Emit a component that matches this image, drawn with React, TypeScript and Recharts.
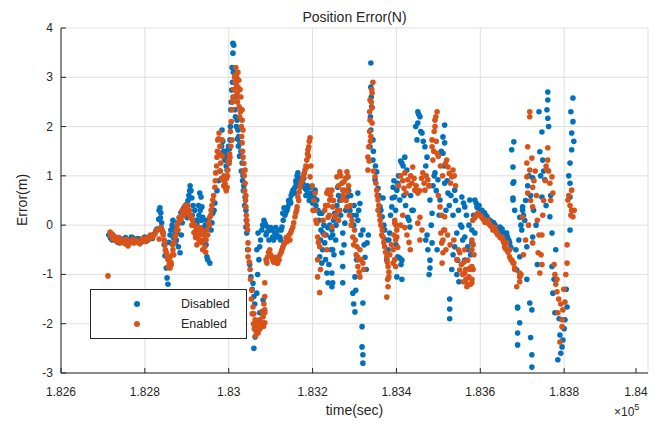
import { ScatterChart, Scatter, XAxis, YAxis, CartesianGrid } from 'recharts';

// time in seconds, error in metres
const xTicks = [182600, 182800, 183000, 183200, 183400, 183600, 183800, 184000];
const yTicks = [-3, -2, -1, 0, 1, 2, 3, 4];

const disabled: [number, number][] = [
  [182714,-0.2],[182718,-0.26],[182722,-0.3],[182726,-0.22],[182729,-0.26],[182733,-0.31],[182736,-0.35],[182740,-0.27],
  [182743,-0.28],[182747,-0.33],[182750,-0.3],[182754,-0.25],[182757,-0.36],[182761,-0.31],[182764,-0.3],[182768,-0.24],
  [182772,-0.26],[182776,-0.33],[182779,-0.34],[182783,-0.27],[182786,-0.28],[182790,-0.35],[182793,-0.33],[182797,-0.26],
  [182800,-0.24],[182804,-0.31],[182807,-0.3],[182811,-0.25],[182815,-0.22],[182818,-0.27],[182822,-0.18],[182826,-0.12],
  [182829,-0.08],[182833,0.12],[182836,0.35],[182838,0.25],[182840,0.05],[182843,-0.15],[182846,-0.4],[182848,-0.62],
  [182851,-0.87],[182853,-1.07],[182855,-1.2],[182858,-0.35],[182860,-0.2],[182862,-0.1],[182865,0],[182867,0.1],
  [182870,-0.05],[182872,-0.16],[182875,-0.3],[182877,-0.16],[182880,-0.44],[182884,-0.56],[182887,-0.2],[182889,0.05],
  [182891,0.2],[182896,0.3],[182900,0.43],[182903,0.5],[182905,0.6],[182908,0.8],[182910,0.7],[182912,0.55],
  [182915,0.4],[182919,0.3],[182922,0.1],[182924,0.04],[182926,-0.1],[182929,0.2],[182931,0.65],[182934,0.57],
  [182936,0.37],[182938,0.16],[182941,-0.05],[182943,-0.2],[182946,-0.4],[182948,-0.64],[182950,-0.7],[182955,-0.77],
  [182958,-0.1],[182960,0.05],[182962,0.24],[182965,0.3],[182967,0.45],[182972,0.7],[182976,0.9],[182979,1.1],
  [182981,1.46],[182984,1.93],[182986,1.7],[182989,1.4],[182991,1.32],[182994,1.2],[182996,1.12],[182998,1.53],
  [183001,1.3],[183003,1.73],[183005,2.34],[183007,2.74],[183008,3.2],[183010,3.49],[183010,3.69],[183012,3.65],
  [183015,2.34],[183017,2.6],[183020,2.13],[183022,1.93],[183024,1.8],[183027,1.67],[183029,1.5],[183032,1.26],
  [183034,1],[183036,0.8],[183039,0.57],[183041,0.3],[183042,0.1],[183041,-0.04],[183043,-0.16],[183045,-0.5],
  [183053,-1.05],[183058,-1.18],[183060,-1.45],[183063,-2.27],[183060,-2.5],[183067,-1.38],[183074,-1.78],[183082,-1.52],
  [183067,-0.5],[183070,-0.16],[183074,-0.44],[183086,0.04],[183089,-0.2],[183093,-0.04],[183098,-0.1],[183103,-0.1],
  [183105,-0.24],[183110,-0.16],[183115,-0.2],[183117,-0.24],[183122,-0.24],[183125,-0.1],[183127,-0.04],[183129,0.24],
  [183134,0.2],[183139,0.3],[183141,0.37],[183144,0.45],[183146,0.51],[183149,0.6],[183151,0.65],[183155,0.72],
  [183158,0.77],[183161,0.85],[183163,1],[183165,1.06],[183168,0.95],[183170,0.92],[183175,0.88],[183177,0.85],
  [183182,0.75],[183186,0.71],[183190,0.6],[183194,0.57],[183194,0.77],[183198,0.57],[183203,0.65],[183206,0.71],
  [183210,0.51],[183213,0.3],[183217,0.24],[183220,-0.1],[183222,0.24],[183225,-0.16],[183217,-0.64],[183222,-0.77],
  [183229,-0.36],[183234,-0.97],[183237,-1.17],[183241,0],[183244,-0.5],[183246,-1.25],[183248,-0.2],[183250,0.1],
  [183253,0.24],[183255,-0.3],[183246,-0.1],[183248,-0.5],[183246,-0.97],[183248,-1.17],[183260,0.77],[183265,0.5],
  [183270,0.57],[183272,0.57],[183277,0.04],[183272,-0.16],[183270,-0.56],[183272,-0.84],[183272,-1.17],[183284,0.98],
  [183289,0.3],[183294,0.2],[183301,-1.05],[183303,-1.32],[183296,-1.38],[183301,-1.76],[183308,0.65],[183313,0.44],
  [183308,0.1],[183320,-0.1],[183320,-1.58],[183318,-2.06],[183318,-2.47],[183320,-2.63],[183320,-2.8],[183330,-0.36],
  [183325,-0.65],[183299,0.4],[183282,0.57],[183339,3.29],[183339,2.8],[183339,1.93],[183344,1.73],[183337,1.59],
  [183344,1.32],[183341,2.4],[183353,1.08],[183349,0.92],[183361,0.37],[183366,0.17],[183372,-0.1],[183384,-0.16],
  [183380,-0.5],[183377,-0.7],[183392,0.77],[183396,0.57],[183389,0.37],[183401,-1.05],[183403,-0.64],[183368,0.55],
  [183356,0.75],[183401,0.71],[183403,0.85],[183408,0.51],[183413,1.26],[183420,1.38],[183425,1.12],[183427,0.16],
  [183432,-0.04],[183437,0.3],[183413,-0.71],[183413,-1.1],[183408,-0.67],[183411,-0.8],[183451,2.3],[183456,2.2],
  [183451,2.07],[183449,1.73],[183461,1.87],[183468,1.59],[183473,1.38],[183515,2.03],[183511,1.79],[183515,1.67],
  [183511,1.46],[183492,1.06],[183499,0.92],[183515,0.85],[183523,0.65],[183539,0.71],[183556,0.57],[183563,0.37],
  [183575,0.51],[183485,0.24],[183480,0.51],[183504,0.51],[183480,-0.71],[183480,-0.87],[183475,-0.5],[183485,-0.36],
  [183470,-0.3],[183532,-0.9],[183544,-0.16],[183539,-0.44],[183556,-0.04],[183563,-0.24],[183570,-0.44],[183527,-1.5],
  [183527,-1.7],[183527,-1.9],[183544,-1],[183546,-0.71],[183563,-0.71],[183570,-0.5],[183580,-0.36],[183587,-0.16],
  [183587,0.51],[183592,0.37],[183604,0.3],[183616,0.17],[183628,0.06],[183647,-0.04],[183658,-0.16],[183670,-0.36],
  [183639,-0.1],[183580,-0.1],[183597,0.4],[183610,0.25],[183622,0.1],[183635,0],[183652,-0.08],[183665,-0.24],
  [183675,1.53],[183678,1.18],[183678,0.85],[183678,0.51],[183680,1.69],[183680,0.88],[183678,0.55],[183701,0.3],
  [183694,0.16],[183699,-0.1],[183694,-0.64],[183689,-1.66],[183663,-0.16],[183687,-0.91],[183689,-1.68],[183694,-1.98],
  [183689,-2.19],[183689,-2.43],[183711,-1.1],[183718,-1.58],[183723,-1.72],[183720,-2.28],[183723,-2.63],[183723,-2.88],
  [183725,0.96],[183701,0.37],[183682,0.3],[183706,0.1],[183711,-0.44],[183725,-0.24],[183740,2.3],[183747,1.89],
  [183742,1.49],[183749,1.32],[183754,0.92],[183747,0.57],[183766,0.17],[183771,-0.16],[183761,2.7],[183761,2.54],
  [183761,2.17],[183759,2.34],[183771,-0.84],[183773,-1.38],[183778,-1.78],[183790,-2.23],[183785,-2.73],[183795,-2.47],
  [183807,-1.66],[183802,-1.92],[183797,-2.33],[183821,2.58],[183821,2.1],[183818,1.87],[183818,1.53],[183814,1.26],
  [183814,0.85],[183814,0.57],[183814,-0.1],
  [182834,0.3],[182837,0.15],[182839,-0.05],[182868,-0.25],[182873,-0.35],[182878,0.05],[182882,0.15],[182886,0.25],
  [182893,0.35],[182898,0.25],[182901,0.15],[182907,0.7],[182913,0.2],[182917,0],[182921,-0.2],[182925,0.1],
  [182928,0.4],[182932,0.3],[182935,0.1],[182939,-0.1],[182944,0],[182947,0.1],[182983,1.6],[182988,1.5],
  [182993,1.45],[182997,1.35],[183000,1.6],[183002,1.55],[183004,2],[183006,2.5],[183009,2.9],[183011,3.1],
  [183013,2.6],[183016,2.2],[183018,2],[183021,1.75],[183023,1.6],[183026,1.4],[183030,1.1],[183033,0.9],
  [183035,0.7],[183038,0.4],[183050,-0.8],[183056,-1.3],[183062,-1.6],[183065,-2],[183069,-1],[183072,-0.7],
  [183076,-0.3],[183079,-0.1],[183081,0],[183084,0.1],[183088,0],[183091,-0.15],[183096,-0.3],[183100,-0.05],
  [183107,-0.3],[183112,-0.05],[183119,-0.1],[183124,-0.3],[183130,0.1],[183132,0.35],[183136,0.25],[183143,0.5],
  [183148,0.45],[183153,0.7],[183157,0.65],[183160,0.9],[183166,0.8],[183172,0.8],[183179,0.95],[183184,0.6],
  [183188,0.8],[183192,0.5],[183196,0.65],[183200,0.45],[183204,0.55],[183208,0.4],[183215,0.1],[183219,-0.3],
  [183224,-0.5],[183227,0],[183231,-0.7],[183232,-0.2],[183236,-0.05],[183239,-0.8],[183243,-0.25],[183251,-0.6],
  [183256,0],[183258,0.4],[183262,0.6],[183267,0.2],[183275,-0.4],[183279,0.3],[183286,0.7],[183291,0.6],
  [183298,0],[183304,0.2],[183310,0.3],[183315,-0.2],[183323,-0.4],[183328,-0.9],[183333,-0.2],[183305,-0.7],
  [183298,-1.6],[183340,2.6],[183338,2.2],[183345,1.5],[183350,1.2],[183358,0.6],[183363,0.3],[183370,0],
  [183375,-0.3],[183382,-0.3],[183386,0.2],[183390,0.55],[183394,0.9],[183398,0.3],[183399,-0.4],[183405,1],
  [183410,1.3],[183416,1.2],[183418,0.6],[183422,0.4],[183430,0.1],[183434,0.6],[183440,0.3],[183446,2],
  [183453,2.25],[183458,1.9],[183464,1.7],[183470,1.2],[183478,0.8],[183483,0],[183487,0.8],[183490,1],
  [183495,0.7],[183502,0.2],[183507,1.5],[183513,1.2],[183518,0.3],[183521,0.9],[183526,0.4],[183530,0.6],
  [183535,0.2],[183541,0.5],[183548,0.3],[183553,0],[183558,-0.3],[183560,0.45],[183567,0.2],[183573,0],
  [183577,-0.6],[183584,0.2],[183473,-0.2],[183478,-1],[183497,-0.5],[183535,-0.6],[183549,-1.15],[183590,0.45],
  [183595,0.35],[183600,0.3],[183607,0.25],[183613,0.2],[183619,0.12],[183625,0.08],[183632,0.05],[183642,-0.05],
  [183650,-0.12],[183655,-0.2],[183661,-0.25],[183668,-0.3],[183673,-0.45],[183685,-0.5],[183692,-0.3],[183697,0],
  [183703,0.2],[183708,0.5],[183713,0.8],[183716,1],[183720,0.6],[183727,0.3],[183733,0],[183736,-0.8],
  [183744,1],[183751,1.1],[183757,0.4],[183763,2],[183768,0.6],[183776,-1.1],[183780,-0.5],[183788,-1.9],
  [183792,-2.6],[183800,-2.1],[183805,-1.3],[183811,1],[183816,2.3],[183823,1.7],
];

const enabled: [number, number][] = [
  [182712,-1.03],[182717,-0.14],[182719,-0.22],[182722,-0.18],[182724,-0.28],[182728,-0.24],[182731,-0.32],[182735,-0.3],
  [182738,-0.25],[182741,-0.36],[182745,-0.3],[182749,-0.33],[182753,-0.38],[182756,-0.28],[182760,-0.42],[182763,-0.37],
  [182767,-0.33],[182771,-0.29],[182774,-0.36],[182778,-0.3],[182781,-0.32],[182785,-0.34],[182788,-0.38],[182792,-0.3],
  [182796,-0.27],[182799,-0.32],[182803,-0.33],[182806,-0.25],[182810,-0.28],[182813,-0.2],[182817,-0.25],[182820,-0.22],
  [182824,-0.18],[182827,-0.12],[182831,-0.1],[182834,-0.28],[182838,-0.05],[182841,-0.1],[182843,-0.15],[182846,-0.3],
  [182848,-0.4],[182851,-0.55],[182853,-0.62],[182855,-0.7],[182858,-0.8],[182860,-0.87],[182862,-0.75],[182865,-0.6],
  [182867,-0.5],[182870,-0.35],[182872,-0.24],[182875,-0.1],[182877,0],[182880,0.04],[182884,0.1],[182887,0.2],
  [182891,0.24],[182894,0.3],[182898,0.35],[182903,0.4],[182906,0.3],[182910,0.2],[182914,0.1],[182919,0],
  [182922,-0.1],[182926,-0.24],[182929,-0.3],[182933,-0.2],[182936,-0.1],[182940,-0.3],[182943,-0.44],[182946,-0.3],
  [182948,-0.1],[182952,0.05],[182955,0.16],[182958,0.3],[182962,0.51],[182967,0.77],[182969,1.06],[182972,1.38],
  [182974,1.73],[182977,1.87],[182979,1.6],[182981,1.26],[182984,1.73],[182986,0.92],[182989,1],[182991,0.85],
  [182994,0.7],[182996,0.77],[182998,1.12],[183001,1.25],[183003,1.38],[183005,1.6],[183008,1.73],[183008,2.34],
  [183010,2.6],[183015,2.9],[183017,3.2],[183020,2.68],[183022,3.1],[183022,2.8],[183024,2.94],[183027,2.75],
  [183029,2.6],[183032,2.34],[183032,2.13],[183034,1.93],[183032,1.67],[183034,1.38],[183036,1.25],[183039,1.12],
  [183039,0.85],[183041,0.6],[183041,0.37],[183043,0.1],[183045,-0.1],[183046,-0.36],[183046,-0.64],[183051,-0.9],
  [183055,-1.32],[183058,-1.66],[183063,-1.92],[183067,-2.06],[183070,-2.19],[183074,-1.92],[183079,-1.98],[183082,-1.86],
  [183086,-1.72],[183086,-1.17],[183086,-1.45],[183086,-1.78],[183086,-1.98],[183072,-2.1],[183065,-2.15],[183077,-2.05],
  [183060,-1.8],[183091,-0.77],[183093,-0.64],[183098,-0.5],[183103,-0.64],[183105,-0.7],[183110,-0.72],[183115,-0.77],
  [183117,-0.77],[183122,-0.6],[183127,-0.5],[183131,-0.4],[183134,-0.36],[183139,-0.33],[183141,-0.3],[183146,-0.3],
  [183150,-0.1],[183153,-0.04],[183158,0.17],[183163,0.37],[183165,0.57],[183168,0.67],[183170,0.77],[183175,0.9],
  [183177,0.98],[183180,1.05],[183182,1.12],[183186,1.32],[183189,1.53],[183191,1.59],[183194,1.77],[183186,1.18],
  [183194,0.98],[183201,0.3],[183206,0.65],[183206,0.3],[183210,0.04],[183212,-0.24],[183217,-0.44],[183212,-0.7],
  [183212,-1.05],[183217,-1.37],[183229,0.3],[183234,0.65],[183237,0.71],[183241,0.51],[183237,0.16],[183246,-0.04],
  [183234,-0.5],[183246,0.71],[183248,0.37],[183253,0.16],[183258,0.98],[183265,1.08],[183270,0.85],[183272,0.71],
  [183275,0.88],[183277,0.71],[183282,1.08],[183284,0.67],[183270,0.51],[183265,0.3],[183260,0.3],[183282,0.37],
  [183284,0.98],[183294,0.1],[183296,-0.24],[183306,-0.44],[183308,-0.65],[183313,-0.5],[183308,-0.84],[183313,-1.05],
  [183320,-0.77],[183288,0.2],[183300,-0.1],[183342,2.68],[183337,2.54],[183342,2.38],[183337,2.13],[183342,2.07],
  [183334,1.59],[183332,1.38],[183332,1.12],[183349,0.98],[183353,0.71],[183356,0.51],[183356,0.3],[183361,0.1],
  [183366,-0.1],[183368,-0.24],[183372,-0.44],[183377,-0.64],[183380,-0.84],[183382,-1.05],[183380,-1.25],[183377,-1.46],
  [183396,0.04],[183401,-0.24],[183392,-0.5],[183392,-0.77],[183344,2.9],[183339,1.8],[183420,1.06],[183427,0.92],
  [183437,0.85],[183444,0.71],[183451,0.65],[183468,0.71],[183475,0.92],[183463,1.06],[183439,1.18],[183396,0.1],
  [183401,-0.1],[183398,-0.3],[183396,-0.7],[183398,-0.84],[183456,0.16],[183461,-0.1],[183456,-0.3],[183451,0.04],
  [183497,2.3],[183492,2.13],[183492,2],[183485,1.73],[183485,1.59],[183497,1.46],[183487,1.32],[183523,1.18],
  [183532,0.98],[183520,1.32],[183535,1.12],[183504,0.37],[183515,0.17],[183511,-0.3],[183511,-0.56],[183509,-0.77],
  [183515,-0.1],[183506,-0.16],[183508,-0.36],[183563,-0.97],[183568,-1.25],[183570,-0.71],[183563,-0.5],[183575,-0.9],
  [183580,-1.1],[183551,-0.56],[183551,-0.91],[183558,-1],[183566,-1.1],[183570,-1.2],[183575,-0.87],[183580,-1.17],
  [183561,-0.75],[183582,0.1],[183594,0.24],[183604,0.16],[183611,0.06],[183623,0],[183630,-0.1],[183639,-0.16],
  [183647,-0.24],[183654,-0.3],[183658,-0.44],[183663,-0.5],[183670,-0.64],[183678,-0.77],[183682,-0.87],[183580,-0.3],
  [183580,-0.5],[183580,-0.84],[183599,0.2],[183616,0.05],[183635,-0.05],[183618,0.1],[183711,1.26],[183711,0.98],
  [183701,0.16],[183687,-1.25],[183694,-1.05],[183652,-0.24],[183663,-0.36],[183670,-0.5],[183680,-0.77],[183682,-0.9],
  [183694,-0.97],[183694,-1.15],[183718,2.3],[183718,2.2],[183713,1.59],[183723,1.36],[183713,0.65],[183725,0.37],
  [183718,1.12],[183725,0.77],[183725,-0.36],[183747,-0.2],[183747,-0.8],[183742,-0.97],[183738,-0.56],[183761,1.57],
  [183759,1.12],[183766,0.85],[183761,1.32],[183771,0.98],[183773,0.65],[183749,0.2],[183778,-1],[183783,-1.1],
  [183783,-1.35],[183785,-1.78],[183795,-2.06],[183790,-2.37],[183802,-1.56],[183797,-1.72],[183795,-1.92],[183807,-0.77],
  [183807,-0.4],[183818,0.71],[183809,0.51],[183818,0.3],[183814,0.4],[183821,0.17],
  [182844,-0.2],[182849,-0.5],[182856,-0.85],[182859,-0.65],[182863,-0.8],[182866,-0.4],[182869,-0.6],[182874,-0.2],
  [182879,-0.1],[182882,0.15],[182886,0.12],[182889,0.3],[182893,0.2],[182896,0.4],[182900,0.3],[182904,0.25],
  [182908,0.15],[182912,0],[182917,-0.15],[182921,-0.25],[182924,-0.4],[182928,-0.15],[182931,-0.05],[182935,-0.35],
  [182938,-0.5],[182942,-0.2],[182945,-0.55],[182950,-0.2],[182954,0],[182957,0.2],[182960,0.4],[182964,0.6],
  [182968,0.9],[182971,1.2],[182973,1.5],[182976,1.75],[182978,1.45],[182980,1.1],[182983,0.95],[182985,1.4],
  [182988,0.8],[182990,0.95],[182993,0.75],[182995,0.95],[182997,1],[182999,1.3],[183002,1.45],[183004,1.9],
  [183006,2.1],[183009,2.5],[183012,2.75],[183014,3],[183016,3.05],[183018,2.85],[183019,3],[183021,2.5],
  [183023,2.6],[183025,2.4],[183026,2.2],[183028,2.3],[183030,2],[183031,1.8],[183033,1.5],[183035,1.1],
  [183037,1],[183038,0.7],[183040,0.5],[183042,0.2],[183044,0],[183047,-0.5],[183049,-0.75],[183052,-1.1],
  [183054,-1.5],[183056,-1.8],[183059,-2],[183061,-2.1],[183064,-2.25],[183068,-1.95],[183071,-2],[183075,-2.1],
  [183080,-1.75],[183084,-1.6],[183083,-2.05],[183089,-0.7],[183095,-0.55],[183100,-0.6],[183107,-0.75],[183112,-0.65],
  [183120,-0.7],[183125,-0.55],[183129,-0.45],[183137,-0.25],[183144,-0.2],[183148,-0.15],[183155,0.05],[183160,0.25],
  [183162,0.3],[183167,0.5],[183172,0.85],[183178,1],[183184,1.2],[183188,1.45],[183192,1.7],[183190,1.4],
  [183196,1.2],[183199,0.8],[183203,0.5],[183208,0.1],[183214,-0.35],[183219,-0.9],[183225,0.1],[183228,-0.2],
  [183231,0.4],[183236,0.4],[183240,0.2],[183243,0.6],[183250,0.5],[183255,0.2],[183262,0.8],[183267,1],
  [183273,0.6],[183279,0.95],[183286,0.8],[183290,0.4],[183292,0],[183298,-0.4],[183302,-0.3],[183304,-0.6],
  [183310,-0.7],[183311,-0.95],[183316,-0.7],[183322,-0.9],[183280,0.5],[183262,0.1],[183336,2.3],[183340,2.5],
  [183341,2.75],[183336,1.9],[183338,1.7],[183335,1.3],[183345,1.1],[183351,0.85],[183354,0.6],[183358,0.4],
  [183360,0.2],[183363,0],[183365,-0.2],[183370,-0.35],[183374,-0.55],[183378,-0.75],[183382,-0.95],[183379,-1.1],
  [183384,-0.6],[183388,-0.4],[183394,-0.2],[183399,0],[183403,-0.45],[183405,0.8],[183410,1],[183415,0.9],
  [183418,0.75],[183423,0.65],[183430,0.8],[183434,1],[183442,0.95],[183447,0.8],[183455,0.7],[183460,0.95],
  [183466,0.85],[183471,1],[183478,0.8],[183410,0],[183415,0.2],[183420,-0.05],[183425,-0.2],[183430,-0.35],
  [183433,-0.5],[183490,1.9],[183494,2.2],[183489,1.5],[183495,1.7],[183500,1.4],[183505,1.2],[183510,1],
  [183517,1.25],[183526,1.05],[183529,0.85],[183538,1],[183541,0.8],[183500,0.6],[183508,0.2],[183513,-0.1],
  [183518,-0.5],[183522,-0.2],[183528,-0.4],[183537,-0.3],[183544,-0.7],[183548,-0.5],[183555,-0.8],[183560,-1.15],
  [183565,-0.9],[183573,-1.05],[183577,-1.2],[183583,-0.9],[183587,0.15],[183590,0.2],[183597,0.22],[183602,0.18],
  [183607,0.12],[183614,0.08],[183620,0.05],[183626,-0.02],[183633,-0.08],[183637,-0.12],[183642,-0.2],[183649,-0.26],
  [183656,-0.35],[183660,-0.48],[183666,-0.55],[183673,-0.7],[183676,-0.72],[183585,-0.6],[183583,-0.4],[183697,-1],
  [183703,-0.6],[183708,-0.3],[183715,0],[183720,0.5],[183728,0.9],[183731,1.1],[183734,0.6],[183736,0.1],
  [183740,-0.2],[183745,-0.6],[183751,0.5],[183755,0.9],[183757,1.2],[183763,1.1],[183768,0.5],[183776,-0.8],
  [183780,-1.2],[183787,-1.5],[183792,-1.6],[183799,-1.3],[183804,-1],[183811,0.6],[183816,0.2],[183824,0.3],
];

const BLUE = '#0072BD';
const ORANGE = '#D95319';
const INK = '#262626';
const FONT = '"Liberation Sans", Arial, Helvetica, sans-serif';

const toRows = (pts: [number, number][]) => pts.map(([t, e]) => ({ t, e }));

const fmtX = (v: number) => String(parseFloat((v / 1e5).toFixed(3)));

const dot = (color: string) => (p: any) => <circle cx={p.cx} cy={p.cy} r={2.8} fill={color} />;

function BottomTick({ x, y, payload }: any) {
  return (
    <g>
      <line x1={x} x2={x} y1={y} y2={y - 5} stroke={INK} />
      <text x={x} y={y + 23} textAnchor="middle" fontSize={12} fill={INK} fontFamily={FONT}>
        {fmtX(payload.value)}
      </text>
    </g>
  );
}

function TopTick({ x, y }: any) {
  return <line x1={x} x2={x} y1={y} y2={y + 5} stroke={INK} />;
}

function LeftTick({ x, y, payload }: any) {
  return (
    <g>
      <line x1={x} x2={x + 5} y1={y} y2={y} stroke={INK} />
      <text x={x - 8} y={y + 4} textAnchor="end" fontSize={12} fill={INK} fontFamily={FONT}>
        {payload.value}
      </text>
    </g>
  );
}

function RightTick({ x, y }: any) {
  return <line x1={x} x2={x - 5} y1={y} y2={y} stroke={INK} />;
}

export default function App() {
  return (
    <div style={{ position: 'absolute', left: 0, top: 0, width: 660, height: 426, background: '#fff', fontFamily: FONT, color: INK }}>
      <ScatterChart width={660} height={426} margin={{ top: 28, right: 12, bottom: 23, left: 0 }}>
        <CartesianGrid stroke="#dfdfdf" />
        <XAxis dataKey="t" type="number" domain={[182600, 184000]} ticks={xTicks} height={30}
          tickSize={0} tickMargin={0} tick={<BottomTick />} axisLine={{ stroke: INK }} tickLine={false} />
        <XAxis xAxisId="top" orientation="top" type="number" domain={[182600, 184000]} ticks={xTicks} height={0}
          tickSize={0} tickMargin={0} tick={<TopTick />} axisLine={{ stroke: INK }} tickLine={false} />
        <YAxis dataKey="e" type="number" domain={[-3, 4]} ticks={yTicks} width={61}
          tickSize={0} tickMargin={0} tick={<LeftTick />} axisLine={{ stroke: INK }} tickLine={false} />
        <YAxis yAxisId="right" orientation="right" type="number" domain={[-3, 4]} ticks={yTicks} width={0}
          tickSize={0} tickMargin={0} tick={<RightTick />} axisLine={{ stroke: INK }} tickLine={false} />
        <Scatter name="Disabled" data={toRows(disabled)} fill={BLUE} shape={dot(BLUE)} isAnimationActive={false} />
        <Scatter name="Enabled" data={toRows(enabled)} fill={ORANGE} shape={dot(ORANGE)} isAnimationActive={false} />
      </ScatterChart>

      <div style={{ position: 'absolute', left: 61, width: 587, top: 8, lineHeight: '18px', textAlign: 'center', fontSize: 14 }}>
        Position Error(N)
      </div>
      <div style={{ position: 'absolute', left: 61, width: 587, top: 401, lineHeight: '18px', textAlign: 'center', fontSize: 14 }}>
        time(sec)
      </div>
      <div style={{ position: 'absolute', left: 22, top: 200, transform: 'translate(-50%, -50%) rotate(-90deg)', fontSize: 14, whiteSpace: 'nowrap' }}>
        Error(m)
      </div>
      <div style={{ position: 'absolute', left: 614, top: 402, fontSize: 12, whiteSpace: 'nowrap' }}>
        ×10<sup style={{ fontSize: 9, verticalAlign: 6 }}>5</sup>
      </div>

      <div style={{ position: 'absolute', left: 90, top: 289, width: 155, height: 48, border: `1px solid ${INK}`, background: '#fff', fontSize: 12.5 }}>
        <span style={{ position: 'absolute', left: 43, top: 11, width: 6, height: 6, borderRadius: 3, background: BLUE }} />
        <span style={{ position: 'absolute', left: 90, top: 6, lineHeight: '16px' }}>Disabled</span>
        <span style={{ position: 'absolute', left: 43, top: 31, width: 6, height: 6, borderRadius: 3, background: ORANGE }} />
        <span style={{ position: 'absolute', left: 90, top: 26, lineHeight: '16px' }}>Enabled</span>
      </div>
    </div>
  );
}
